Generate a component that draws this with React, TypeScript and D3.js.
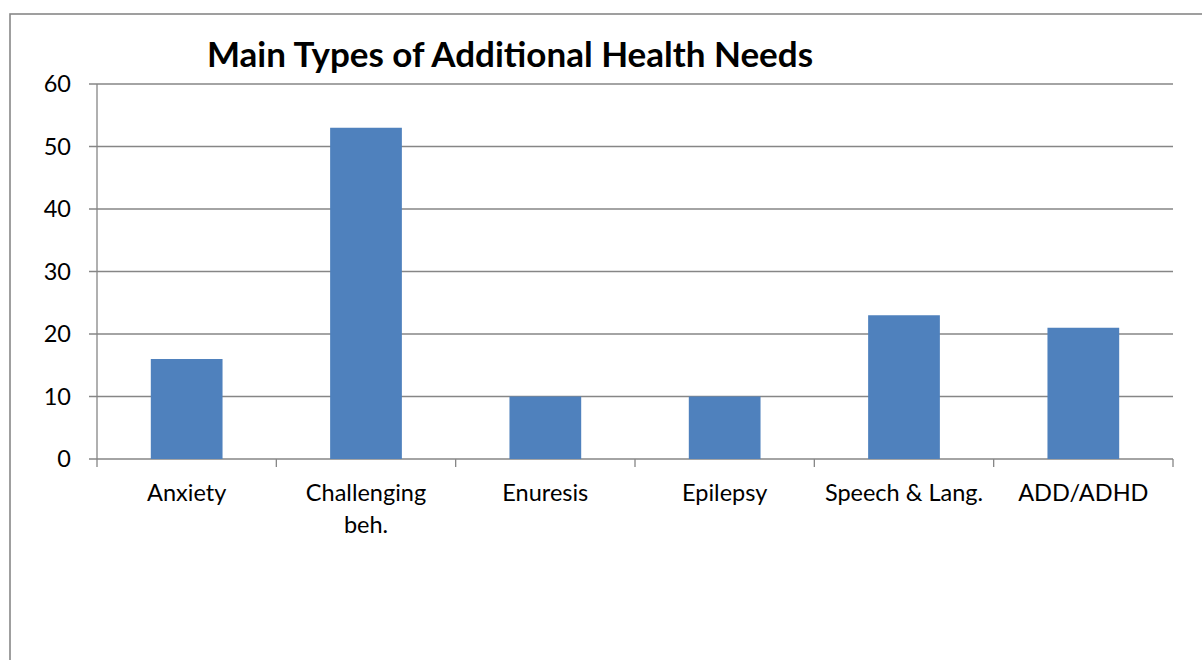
import React from "react";
import * as d3 from "d3";

const title = "Main Types of Additional Health Needs";
const categories = ["Anxiety", "Challenging beh.", "Enuresis", "Epilepsy", "Speech & Lang.", "ADD/ADHD"];
const values = [16, 53, 10, 10, 23, 21];
const yTicks = [0, 10, 20, 30, 40, 50, 60];

const W = 1202;
const H = 660;
const plot = { left: 97, right: 1173, top: 84, bottom: 459 };
const FONT = "Lato, 'Liberation Sans', sans-serif";
const BAR = "#4F81BD";
const GRID = "#868686";

function wrapLabel(s: string, maxChars: number): string[] {
  if (s.length <= maxChars) return [s];
  const words = s.split(" ");
  const lines: string[] = [];
  let cur = "";
  for (const w of words) {
    const t = cur ? cur + " " + w : w;
    if (t.length > maxChars && cur) {
      lines.push(cur);
      cur = w;
    } else cur = t;
  }
  if (cur) lines.push(cur);
  return lines;
}

export default function App() {
  const x = d3
    .scaleBand<string>()
    .domain(categories)
    .range([plot.left, plot.right])
    .paddingInner(0.6)
    .paddingOuter(0.3);
  const y = d3.scaleLinear().domain([0, 60]).range([plot.bottom, plot.top]);
  const step = x.step();
  const boundaries = d3.range(categories.length + 1).map((i) => plot.left + i * step);

  return (
    <svg
      width={W}
      height={H}
      style={{ position: "absolute", left: 0, top: 0, display: "block", background: "#fff" }}
    >
      <rect x={0} y={0} width={W} height={H} fill="#fff" />
      <rect x={10} y={14} width={1250} height={700} fill="#fff" stroke="#888" strokeWidth={1.6} />
      <text
        x={510}
        y={67}
        textAnchor="middle"
        fontFamily={FONT}
        fontWeight="bold"
        fontSize={35}
        fill="#000"
      >
        {title}
      </text>
      {yTicks.map((t) => (
        <g key={t}>
          <line x1={plot.left - 8} x2={plot.right} y1={y(t)} y2={y(t)} stroke={GRID} strokeWidth={1.3} />
          <text
            x={71}
            y={y(t)}
            dy="0.36em"
            textAnchor="end"
            fontFamily={FONT}
            fontSize={23.5}
            fill="#000"
          >
            {t}
          </text>
        </g>
      ))}
      <line x1={plot.left} x2={plot.left} y1={plot.top} y2={plot.bottom} stroke={GRID} strokeWidth={1.3} />
      {categories.map((c, i) => (
        <rect key={c} x={x(c)} y={y(values[i])} width={x.bandwidth()} height={y(0) - y(values[i])} fill={BAR} />
      ))}
      {boundaries.map((b, i) => (
        <line key={i} x1={b} x2={b} y1={plot.bottom} y2={plot.bottom + 8} stroke={GRID} strokeWidth={1.3} />
      ))}
      {categories.map((c) => {
        const lines = wrapLabel(c, 15);
        const cx = (x(c) as number) + x.bandwidth() / 2;
        return (
          <text key={c} x={cx} y={501} textAnchor="middle" fontFamily={FONT} fontSize={23.5} fill="#000">
            {lines.map((l, j) => (
              <tspan key={j} x={cx} dy={j === 0 ? 0 : 32}>
                {l}
              </tspan>
            ))}
          </text>
        );
      })}
    </svg>
  );
}
